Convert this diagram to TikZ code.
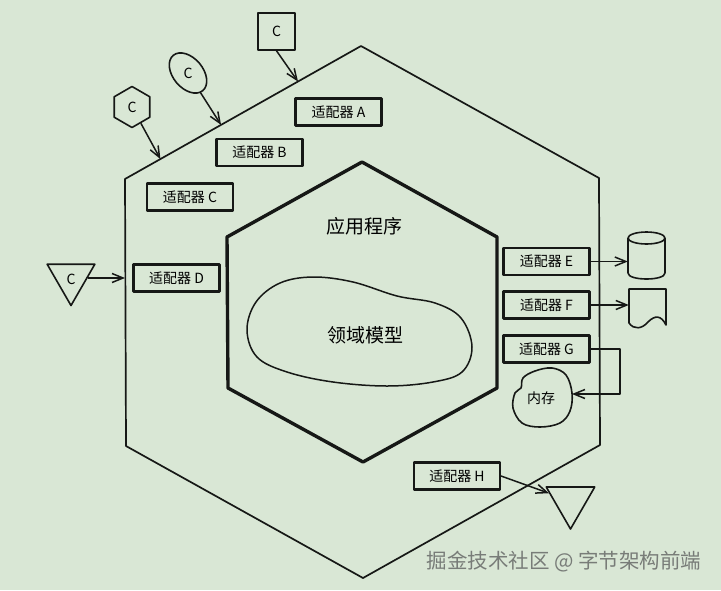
\documentclass[tikz,border=0pt]{standalone}
\usepackage{fontspec}
\setmainfont{Noto Sans CJK SC}
\usetikzlibrary{shapes.geometric,arrows.meta,calc}
\definecolor{bg}{RGB}{217,231,213}
\definecolor{ink}{RGB}{22,24,22}
\definecolor{wm}{RGB}{120,124,120}
\begin{document}
\begin{tikzpicture}[x=1pt,y=-1pt,line join=round,
  adapter/.style={draw=ink,line width=2.1pt,minimum width=86pt,minimum height=27pt,inner sep=0pt,font=\fontsize{14}{14}\selectfont},
  conn/.style={draw=ink,line width=1.5pt,-{Straight Barb[length=11pt,width=9pt,line width=1.5pt]}},
  thin shape/.style={draw=ink,line width=1.6pt},
  ctext/.style={font=\fontsize{14}{14}\selectfont,inner sep=0pt},
  bigtext/.style={font=\fontsize{19}{19}\selectfont,inner sep=0pt}]
\fill[bg] (0,0) rectangle (721,590);
\useasboundingbox (0,0) rectangle (721,590);

% outer hexagon
\coordinate (oT) at (361,46);
\coordinate (oTR) at (599,178);
\coordinate (oBR) at (600,445);
\coordinate (oB) at (363,578);
\coordinate (oBL) at (126,446);
\coordinate (oTL) at (125,179);
\draw[ink,line width=1.7pt] (oT) -- (oTR) -- (oBR) -- (oB) -- (oBL) -- (oTL) -- cycle;

% inner hexagon
\coordinate (iT) at (362,162);
\coordinate (iTR) at (497,237);
\coordinate (iBR) at (497,388);
\coordinate (iB) at (363,462);
\coordinate (iBL) at (228,388);
\coordinate (iTL) at (227,237);
\draw[ink,line width=3.4pt] (iT) -- (iTR) -- (iBR) -- (iB) -- (iBL) -- (iTL) -- cycle;
\node[bigtext] (app) at (364,226) {应用程序};

% domain model blob
\draw[ink,line width=1.5pt] plot[smooth cycle,tension=0.6] coordinates {(247,330) (256,302) (280,283) (313,277) (353,282) (397,296) (435,303) (461,318) (472,347) (462,372) (433,382) (387,386) (333,382) (287,372) (257,357)};
\node[bigtext] (dom) at (365,335) {领域模型};

% adapters
\node[adapter] (adA) at (338.5,112) {适配器 A};
\node[adapter] (adB) at (259.5,152.5) {适配器 B};
\node[adapter] (adC) at (190,197) {适配器 C};
\node[adapter] (adD) at (176.5,278) {适配器 D};
\node[adapter] (adE) at (546.5,261.5) {适配器 E};
\node[adapter] (adF) at (546.5,305) {适配器 F};
\node[adapter] (adG) at (546.5,349) {适配器 G};
\node[adapter] (adH) at (457,476) {适配器 H};

% clients on the upper-left edge
\node[thin shape,minimum size=37pt,inner sep=0pt] (sqC) at (276.5,31.5) {};
\node[ctext] (sqCt) at (sqC) {C};
\node[thin shape,ellipse,minimum width=30pt,minimum height=46pt,inner sep=0pt,rotate=40] (ellC) at (188,73) {};
\node[ctext] (ellCt) at (ellC) {C};
\node[thin shape,regular polygon,regular polygon sides=6,shape border rotate=30,minimum size=41pt,inner sep=0pt] (hexC) at (132,107) {};
\node[ctext] (hexCt) at (hexC) {C};

\coordinate (aSq) at ($(oTL)!0.733!(oT)$);
\coordinate (aEll) at ($(oTL)!0.407!(oT)$);
\coordinate (aHex) at ($(oTL)!0.15!(oT)$);
\draw[conn] (sqC.south) -- (aSq);
\draw[conn] (ellC) -- (aEll);
\draw[conn] (hexC) -- (aHex);

% left triangle client
\node[thin shape,regular polygon,regular polygon sides=3,shape border rotate=180,minimum size=55pt,inner sep=0pt] (triC) at (71,278) {};
\node[ctext] (triCt) at (71,279) {C};
\coordinate (aD) at (125,278);
\draw[conn] (triC) -- (aD);

% database cylinder
\node[minimum width=37pt,minimum height=47pt,inner sep=0pt] (cyl) at (646.5,255.5) {};
\draw[ink,line width=1.6pt] (646.5,238) ellipse [x radius=18.5, y radius=6];
\draw[ink,line width=1.6pt] (628,238) -- (628,273) .. controls (628,281) and (665,281) .. (665,273) -- (665,238);
\draw[conn] (adE.east) -- (adE.east -| cyl.west);

% document
\node[minimum width=37pt,minimum height=36pt,inner sep=0pt] (doc) at (647.5,307) {};
\draw[ink,line width=1.6pt] (629,289) -- (666,289) -- (666,325) .. controls (661,315) and (655,315) .. (648,322) .. controls (642,329) and (634,330) .. (629,323) -- cycle;
\draw[conn] (adF.east) -- (adF.east -| doc.west);

% memory blob
\draw[ink,line width=1.6pt] plot[smooth cycle,tension=0.6] coordinates {(523,378) (535,371) (552,368) (566,375) (572,393) (570,411) (560,423) (540,427) (522,423) (513,408) (515,393) (521,388)};
\node[ctext] (mem) at (541,398) {内存};
\coordinate (gTurn) at (620,349);
\coordinate (memR) at (572,394);
\draw[conn] (adG.east) -- (gTurn) |- (memR);

% triangle for adapter H
\node[thin shape,regular polygon,regular polygon sides=3,shape border rotate=180,minimum size=56pt,inner sep=0pt] (triH) at (570.5,501) {};
\draw[conn] (adH.east) -- (triH);

% watermark
\node[font=\fontsize{20.5}{20.5}\selectfont,text=wm,inner sep=0pt] (wmark) at (564,562) {掘金技术社区 @ 字节架构前端};
\end{tikzpicture}
\end{document}
